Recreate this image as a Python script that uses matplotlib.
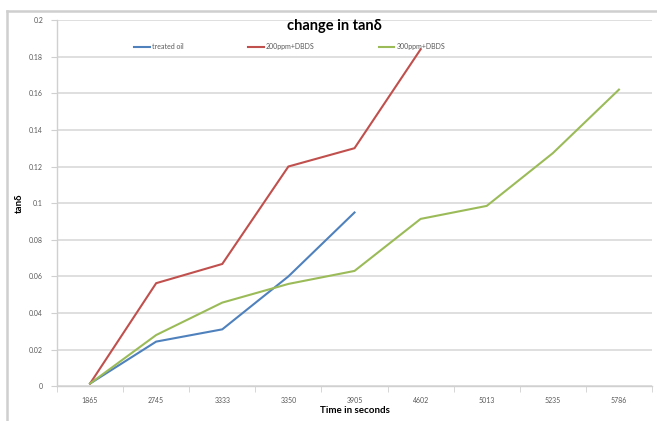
import numpy as np
import matplotlib
matplotlib.use("Agg")
import matplotlib.pyplot as plt
from matplotlib.lines import Line2D
from matplotlib.ticker import FixedLocator

plt.rcParams["font.family"] = ["Lato", "DejaVu Sans"]

# sampling times (s) and tan delta for each oil sample
times = ["1865", "2745", "3333", "3350", "3905", "4602", "5013", "5235", "5786"]
treated_oil = [0.0015, 0.0244, 0.0311, 0.0600, 0.0949]
dbds_200 = [0.0015, 0.0563, 0.0668, 0.1200, 0.1300, 0.1840]
dbds_300 = [0.0015, 0.0280, 0.0457, 0.0559, 0.0630, 0.0914, 0.0985, 0.1273, 0.1620]

series = [
    ("treated oil", treated_oil, "#4F81BD"),
    ("200ppm+DBDS", dbds_200, "#C0504D"),
    ("300ppm+DBDS", dbds_300, "#9BBB59"),
]

fig = plt.figure(figsize=(6.57, 4.21), dpi=100)
ax = fig.add_axes([57 / 657, 1 - 386.3 / 421, 595 / 657, 366.3 / 421])

for label, vals, color in series:
    ax.plot(np.arange(len(vals)), vals, color=color, lw=1.5, label=label,
            solid_joinstyle="miter")

ax.set_xlim(-0.5, len(times) - 0.5)
ax.set_ylim(0, 0.2)
ax.set_yticks(np.arange(0, 0.201, 0.02))
ax.set_yticklabels(["0", "0.02", "0.04", "0.06", "0.08", "0.1", "0.12",
                    "0.14", "0.16", "0.18", "0.2"])
ax.set_xticks(np.arange(len(times)))
ax.set_xticklabels(times)
ax.xaxis.set_minor_locator(FixedLocator(np.arange(-0.5, len(times), 1.0)))

ax.grid(axis="y", color="#d9d9d9", lw=1.2)
ax.set_axisbelow(True)
for side in ["top", "right"]:
    ax.spines[side].set_visible(False)
for side in ["left", "bottom"]:
    ax.spines[side].set_color("#d0d0d0")
    ax.spines[side].set_linewidth(1.0)

ax.tick_params(axis="x", which="major", length=0, labelsize=5, colors="#595959", pad=8)
ax.tick_params(axis="x", which="minor", length=4, color="#d0d0d0", direction="out")
ax.tick_params(axis="y", length=4, color="#d0d0d0", labelsize=5, colors="#595959", pad=6)

ax.set_xlabel("Time in seconds", fontsize=7, fontweight="bold", labelpad=1)
ax.set_ylabel("tanδ", fontsize=7, fontweight="bold", labelpad=6)
ax.yaxis.set_label_coords(-0.055, 0.5)

fig.text(334 / 657, 1 - 26 / 421, "change in tanδ", ha="center", va="center",
         fontsize=10.5, fontweight="bold")

ax.legend(loc="upper left", bbox_to_anchor=(71 / 595, 1 - 17 / 366.3), ncol=3,
          frameon=False, fontsize=5, handlelength=2.3, handletextpad=0.3,
          columnspacing=9.2, labelcolor="#595959")

# outer chart frame
border = "#cfcfcf"
fig.add_artist(Line2D([7 / 657, 7 / 657], [0, 1 - 11 / 421],
                      transform=fig.transFigure, color=border, lw=1.8))
fig.add_artist(Line2D([7 / 657, 1], [1 - 11 / 421, 1 - 11 / 421],
                      transform=fig.transFigure, color=border, lw=1.8))

fig.savefig("out.png", dpi=100)
